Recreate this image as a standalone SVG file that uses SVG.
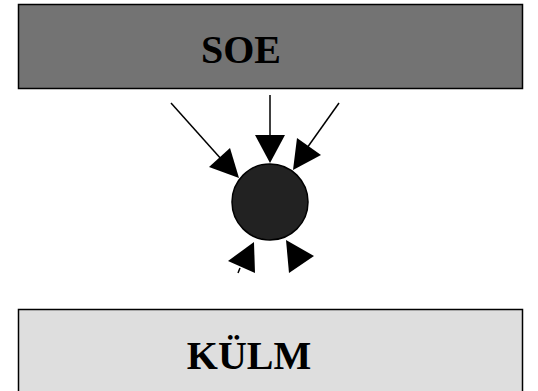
<svg xmlns="http://www.w3.org/2000/svg" width="538" height="391" viewBox="0 0 538 391">
<style>
.box{stroke:#000;stroke-width:1.5}
.lbl{font-family:"Liberation Serif","Times New Roman",serif;font-weight:bold;font-size:40px;text-anchor:middle;fill:#000}
.ln{stroke:#000;stroke-width:1.5;fill:none}
.ah{fill:#000}
</style>
<rect width="538" height="391" fill="#fff"/>
<g id="soe">
<rect class="box" x="18.5" y="4.5" width="504" height="84" fill="#737373"/>
<text class="lbl" x="241" y="63">SOE</text>
</g>
<g id="kulm">
<rect class="box" x="18.5" y="309.5" width="504" height="90" fill="#dedede"/>
<text class="lbl" x="249" y="369">KÜLM</text>
</g>
<g id="node">
<circle cx="270" cy="202" r="38" fill="#222" stroke="#000" stroke-width="1.5"/>
</g>
<g id="connectors">
<line class="ln" x1="171" y1="103" x2="222" y2="160"/>
<polygon class="ah" points="209,167 230,148 239,178"/>
<line class="ln" x1="270" y1="95" x2="270" y2="136"/>
<polygon class="ah" points="255,135 285,135 270,163"/>
<line class="ln" x1="339" y1="103" x2="307" y2="148"/>
<polygon class="ah" points="297,138 321,155 293,170"/>
<polygon class="ah" points="228,261 254,242 255,273"/>
<line class="ln" x1="240" y1="268" x2="238" y2="273"/>
<polygon class="ah" points="286,240 314,256 289,273"/>
</g>
</svg>
